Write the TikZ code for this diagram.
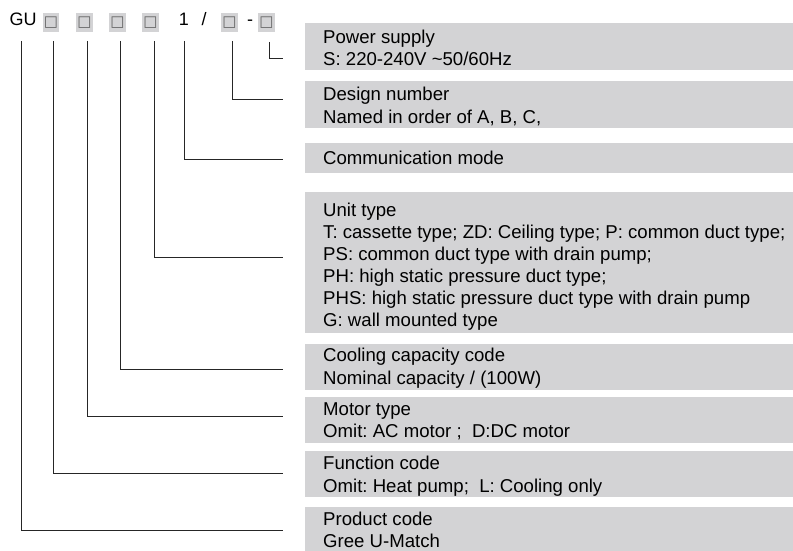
\documentclass[tikz,border=0pt]{standalone}
\usepackage{fontspec}
\setmainfont{Liberation Sans}
\newfontfamily\symfont{DejaVu Sans}
\frenchspacing
\definecolor{boxgray}{RGB}{211,211,213}
\definecolor{sqline}{RGB}{100,100,100}
\begin{document}
\begin{tikzpicture}[x=1pt,y=-1pt,
  gbox/.style={fill=boxgray, inner sep=0, anchor=north west, minimum width=488},
  txt/.style={inner sep=0, anchor=north west, align=left, font=\fontsize{18.6}{22.5}\selectfont\frenchspacing},
  code/.style={inner sep=0, anchor=base, font=\fontsize{18}{20}\selectfont},
  sq/.style={fill=boxgray, minimum width=16.6, minimum height=19, inner sep=0,
    text=sqline, font=\symfont\fontsize{15}{15}\selectfont},
  lead/.style={line width=0.9pt, black!85}]
\useasboundingbox (0,0) rectangle (793,551);

% top code row
\node[code, anchor=base west] (gu) at (9.5,26) {GU};
\node[sq] (s1) at (51,22.2) {□};
\node[sq] (s2) at (84.5,22.2) {□};
\node[sq] (s3) at (117.5,22.2) {□};
\node[sq] (s4) at (150.5,22.2) {□};
\node[code] (one) at (184,26) {1};
\node[code] (slash) at (204,26) {/};
\node[code] (dash1) at (250,26) {-};
\node[sq] (s5) at (229.5,22.2) {□};
\node[sq] (s6) at (266.5,22.2) {□};

% grey boxes
\node[gbox, minimum height=47] (bpow) at (305,23) {};
\node[gbox, minimum height=47] (bdes) at (305,81) {};
\node[gbox, minimum height=30] (bcom) at (305,143) {};
\node[gbox, minimum height=141] (bunit) at (305,192) {};
\node[gbox, minimum height=46] (bcool) at (305,344) {};
\node[gbox, minimum height=46] (bmot) at (305,397) {};
\node[gbox, minimum height=46] (bfun) at (305,451) {};
\node[gbox, minimum height=44] (bprod) at (305,507) {};

% texts
\node[txt] (tpow) at (323,29.5) {Power supply\\S: 220-240V \textasciitilde 50/60Hz};
\node[txt] (tdes) at (323,87) {Design number\\Named in order of A, B, C,};
\node[txt] (tcom) at (323,151) {Communication mode};
\node[txt, font=\fontsize{18.6}{22}\selectfont\frenchspacing] (tunit) at (323,203) {Unit type\\T: cassette type; ZD: Ceiling type; P: common duct type;\\PS: common duct type with drain pump;\\PH: high static pressure duct type;\\PHS: high static pressure duct type with drain pump\\G: wall mounted type};
\node[txt] (tcool) at (323,348) {Cooling capacity code\\Nominal capacity / (100W)};
\node[txt] (tmot) at (323,402) {Motor type\\Omit: AC motor ;~ D:DC motor};
\node[txt] (tfun) at (323,456) {Function code\\Omit: Heat pump;~ L: Cooling only};
\node[txt] (tprod) at (323,511.5) {Product code\\Gree U-Match};

% leader start / end coordinates
\coordinate (a0) at (21.7,41);
\coordinate (a1) at (53.3,41);
\coordinate (a2) at (87.3,41);
\coordinate (a3) at (120.7,41);
\coordinate (a4) at (154,41);
\coordinate (a5) at (184.3,41);
\coordinate (a6) at (232.7,41);
\coordinate (a7) at (269.3,42);
\coordinate (e0) at (283,530.5);
\coordinate (e1) at (283,473.5);
\coordinate (e2) at (283,416);
\coordinate (e3) at (283,369);
\coordinate (e4) at (283,257);
\coordinate (e5) at (283,159);
\coordinate (e6) at (283,99.5);
\coordinate (e7) at (283,58);

\draw[lead] (a0) |- (e0);
\draw[lead] (a1) |- (e1);
\draw[lead] (a2) |- (e2);
\draw[lead] (a3) |- (e3);
\draw[lead] (a4) |- (e4);
\draw[lead] (a5) |- (e5);
\draw[lead] (a6) |- (e6);
\draw[lead] (a7) |- (e7);
\end{tikzpicture}
\end{document}
